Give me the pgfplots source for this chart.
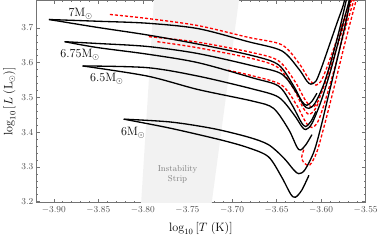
\documentclass[border=0pt]{standalone}
\usepackage{pgfplots}
\pgfplotsset{compat=1.18}
\definecolor{framegray}{gray}{0.45}
\definecolor{ticklab}{gray}{0.3}
\definecolor{stripgray}{gray}{0.95}
\begin{document}
\begin{tikzpicture}
\begin{axis}[
  scale only axis,
  width=326pt, height=200pt,
  xmin=-3.92, xmax=-3.55,
  ymin=3.197, ymax=3.7794,
  xtick={-3.90,-3.85,-3.80,-3.75,-3.70,-3.65,-3.60,-3.55},
  ytick={3.2,3.3,3.4,3.5,3.6,3.7},
  minor x tick num=4,
  minor y tick num=4,
  tick align=inside,
  major tick length=4pt,
  minor tick length=2pt,
  every tick/.style={framegray, line width=0.4pt},
  axis line style={framegray, line width=0.6pt},
  xticklabel style={/pgf/number format/fixed, /pgf/number format/fixed zerofill, /pgf/number format/precision=2, font=\fontsize{9}{10}\selectfont, text=ticklab},
  yticklabel style={/pgf/number format/fixed, /pgf/number format/fixed zerofill, /pgf/number format/precision=1, font=\fontsize{9}{10}\selectfont, text=ticklab, xshift=1pt},
  xlabel={$\log_{10}\,[T\;(\mathrm{K})]$},
  ylabel={$\log_{10}\,[L\;(\mathrm{L}_\odot)]$},
  label style={font=\fontsize{11.5}{12}\selectfont},
  xlabel style={yshift=-3pt},
  ylabel style={yshift=-1pt},
  clip=true,
]
% instability strip
\addplot[fill=stripgray, draw=none] coordinates {(-3.8031,3.15) (-3.7872,3.80) (-3.6912,3.80) (-3.7252,3.15)} -- cycle;
\node[font=\fontsize{8.5}{10}\selectfont, text=gray, align=center] at (axis cs:-3.7611,3.2794) {Instability\\Strip};

% red dashed comparison tracks
\addplot[red, line width=1.3pt, dash pattern=on 3pt off 2pt, smooth, tension=0.5] coordinates {
(-3.8371,3.7387) (-3.7951,3.7271) (-3.7384,3.7067) (-3.6817,3.6727) (-3.6443,3.6515) (-3.6251,3.5991) (-3.6137,3.5526) (-3.6058,3.5352) (-3.6001,3.5468) (-3.5933,3.5875) (-3.5820,3.6689) (-3.5718,3.7445) (-3.5627,3.8026)};
\addplot[red, line width=1.3pt, dash pattern=on 3pt off 2pt, smooth, tension=0.5] coordinates {
(-3.7932,3.6747) (-3.7384,3.6588) (-3.6761,3.6282) (-3.6477,3.6050) (-3.6296,3.5468) (-3.6183,3.4945) (-3.6103,3.4713) (-3.6035,3.4887) (-3.5956,3.5410) (-3.5842,3.6282) (-3.5729,3.7213) (-3.5627,3.8026)};
\addplot[red, line width=1.3pt, dash pattern=on 3pt off 2pt, smooth, tension=0.5] coordinates {
(-3.7838,3.6602) (-3.7384,3.6428) (-3.6761,3.6108) (-3.6477,3.5846) (-3.6307,3.5236) (-3.6205,3.4713) (-3.6137,3.4509) (-3.6069,3.4654) (-3.6024,3.4887)};
\addplot[red, line width=1.3pt, dash pattern=on 3pt off 2pt, smooth, tension=0.5] coordinates {
(-3.7044,3.5779) (-3.6761,3.5614) (-3.6443,3.5352) (-3.6273,3.4771) (-3.6171,3.4277) (-3.6103,3.4131) (-3.6035,3.4306) (-3.5956,3.4887) (-3.5842,3.5904) (-3.5729,3.6980) (-3.5604,3.8026)};
\addplot[red, line width=1.3pt, dash pattern=on 3pt off 2pt, smooth, tension=0.5] coordinates {
(-3.6194,3.3492) (-3.6217,3.3288) (-3.6194,3.3114) (-3.6126,3.3056) (-3.6047,3.3434) (-3.5967,3.4160) (-3.5865,3.5178) (-3.5740,3.6486) (-3.5616,3.7707) (-3.5582,3.8026)};

% black tracks
% 7 Msun
\addplot[black, line width=1.3pt, smooth, tension=0.5] coordinates {
(-3.9054,3.7241) (-3.8518,3.7192) (-3.7951,3.7134) (-3.7384,3.6980) (-3.6817,3.6602) (-3.6443,3.6340) (-3.6251,3.5817) (-3.6160,3.5468) (-3.6115,3.5381) (-3.6058,3.5468) (-3.6001,3.5817) (-3.5910,3.6485) (-3.5820,3.7154) (-3.5752,3.7648) (-3.5718,3.8026)};
\addplot[black, line width=1.3pt, smooth, tension=0.5] coordinates {
(-3.9054,3.7241) (-3.8518,3.7017) (-3.7951,3.6797) (-3.7384,3.6535) (-3.6761,3.6195) (-3.6477,3.5933) (-3.6307,3.5323) (-3.6217,3.4887) (-3.6160,3.4770) (-3.6103,3.4887) (-3.6047,3.5119)};
% 6.75 Msun
\addplot[black, line width=1.3pt, smooth, tension=0.5] coordinates {
(-3.8878,3.6602) (-3.8518,3.6552) (-3.7951,3.6465) (-3.7384,3.6262) (-3.6761,3.5904) (-3.6443,3.5672) (-3.6273,3.5119) (-3.6194,3.4770) (-3.6137,3.4683) (-3.6069,3.4829) (-3.5978,3.5323) (-3.5888,3.6049) (-3.5797,3.6922) (-3.5718,3.7794) (-3.5695,3.8026)};
\addplot[black, line width=1.3pt, smooth, tension=0.5] coordinates {
(-3.8878,3.6602) (-3.8518,3.6436) (-3.7951,3.6244) (-3.7384,3.6000) (-3.6761,3.5555) (-3.6477,3.5323) (-3.6330,3.4799) (-3.6228,3.4305) (-3.6175,3.4160) (-3.6115,3.4305) (-3.6058,3.4596)};
% 6.5 Msun
\addplot[black, line width=1.3pt, smooth, tension=0.5] coordinates {
(-3.8677,3.5904) (-3.7951,3.5855) (-3.7384,3.5613) (-3.6761,3.5236) (-3.6477,3.5003) (-3.6307,3.4509) (-3.6217,3.4160) (-3.6171,3.4073) (-3.6103,3.4247) (-3.6001,3.4887) (-3.5888,3.5817) (-3.5775,3.6922) (-3.5684,3.7794) (-3.5661,3.8026)};
\addplot[black, line width=1.3pt, smooth, tension=0.5] coordinates {
(-3.8677,3.5904) (-3.7951,3.5613) (-3.7384,3.5227) (-3.6761,3.4887) (-3.6534,3.4683) (-3.6364,3.4073) (-3.6273,3.3578) (-3.6231,3.3483) (-3.6171,3.3637) (-3.6103,3.3927)};
% 6 Msun
\addplot[black, line width=1.3pt, smooth, tension=0.5] coordinates {
(-3.8215,3.4372) (-3.7690,3.4290) (-3.7214,3.4102) (-3.6817,3.3855) (-3.6591,3.3637) (-3.6421,3.3259) (-3.6307,3.2910) (-3.6251,3.2802) (-3.6183,3.2910) (-3.6081,3.3433) (-3.6001,3.4160) (-3.5933,3.4887) (-3.5797,3.6340) (-3.5706,3.7358) (-3.5661,3.8026)};
\addplot[black, line width=1.3pt, smooth, tension=0.5] coordinates {
(-3.8215,3.4372) (-3.7690,3.4110) (-3.7124,3.3773) (-3.6817,3.3549) (-3.6591,3.3288) (-3.6443,3.2706) (-3.6341,3.2212) (-3.6288,3.2125) (-3.6217,3.2328) (-3.6137,3.2756)};

\node[font=\fontsize{12}{13}\selectfont] at (axis cs:-3.8700,3.7416) {7M$_\odot$};
\node[font=\fontsize{12}{13}\selectfont] at (axis cs:-3.8705,3.6224) {6.75M$_\odot$};
\node[font=\fontsize{12}{13}\selectfont] at (axis cs:-3.8405,3.5527) {6.5M$_\odot$};
\node[font=\fontsize{12}{13}\selectfont] at (axis cs:-3.8110,3.3986) {6M$_\odot$};
\end{axis}
\end{tikzpicture}
\end{document}
